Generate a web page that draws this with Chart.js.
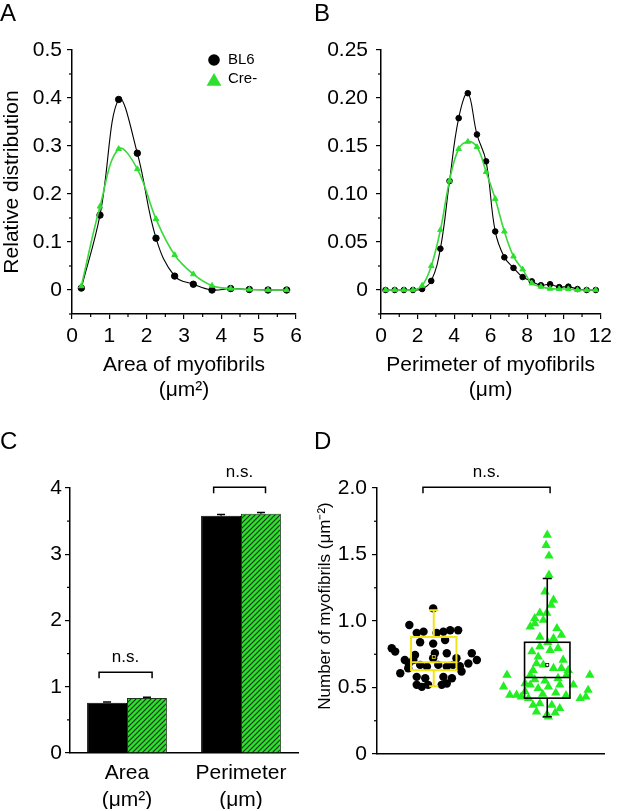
<!DOCTYPE html>
<html><head><meta charset="utf-8">
<script src="https://cdn.jsdelivr.net/npm/chart.js@4.4.1/dist/chart.umd.min.js"></script>
<style>
html,body{margin:0;padding:0;background:#fff;width:617px;height:811px;overflow:hidden;}
canvas{position:absolute;}
.lab{position:absolute;font-family:'Liberation Sans',Arial,sans-serif;font-size:24px;color:#000;line-height:1;}
</style></head><body>
<canvas id="cA" style="left:0px;top:0px;width:308px;height:405px" width="308" height="405"></canvas>
<canvas id="cB" style="left:308px;top:0px;width:309px;height:405px" width="309" height="405"></canvas>
<canvas id="cC" style="left:0px;top:405px;width:308px;height:406px" width="308" height="406"></canvas>
<canvas id="cD" style="left:308px;top:405px;width:309px;height:406px" width="309" height="406"></canvas>
<div class="lab" style="left:0px;top:1px">A</div>
<div class="lab" style="left:314px;top:1px">B</div>
<div class="lab" style="left:0px;top:429px">C</div>
<div class="lab" style="left:314px;top:429px">D</div>
<script>
// ---------- DATA ----------
// Panel A: area distribution
const areaBins = [0.25,0.75,1.25,1.75,2.25,2.75,3.25,3.75,4.25,4.75,5.25,5.75];
const areaBL6  = [0.004,0.156,0.397,0.285,0.108,0.029,0.012,0.0,0.003,0.001,0.0,0.0];
const areaCre  = [0.008,0.174,0.294,0.252,0.148,0.073,0.033,0.009,0.003,0.001,0.0,0.0];
const areaXTicks = [0,1,2,3,4,5,6];
const areaYTicks = [0,0.1,0.2,0.3,0.4,0.5];
const areaYLabels = ['0','0.1','0.2','0.3','0.4','0.5'];
const areaXMinor = [0.5,1.5,2.5,3.5,4.5,5.5];
const areaYMinor = [0.05,0.15,0.25,0.35,0.45];

// Panel B: perimeter distribution
const perimBins = [0.25,0.75,1.25,1.75,2.25,2.75,3.25,3.75,4.25,4.75,5.25,5.75,6.25,6.75,7.25,7.75,8.25,8.75,9.25,9.75,10.25,10.75,11.25,11.75];
const perimBL6  = [0,0,0,0,0.001,0.0095,0.043,0.1135,0.179,0.205,0.162,0.134,0.061,0.034,0.023,0.0135,0.009,0.005,0.006,0.003,0.0035,0.001,0,0];
const perimCre  = [0,0,0,0,0.0045,0.025,0.0625,0.114,0.147,0.1545,0.149,0.123,0.095,0.061,0.035,0.0215,0.007,0.0035,0.0014,0.001,0.001,0,0,0];
const perimXTicks = [0,2,4,6,8,10,12];
const perimYTicks = [0,0.05,0.10,0.15,0.20,0.25];
const perimYLabels = ['0','0.05','0.10','0.15','0.20','0.25'];
const perimXMinor = [1,3,5,7,9,11];
const perimYMinor = [0.025,0.075,0.125,0.175,0.225];

// Panel C: mean size
const barCategories = [['Area','(\u03bcm\u00b2)'],['Perimeter','(\u03bcm)']];
const barBL6 = [0.76,3.58];
const barCre = [0.83,3.61];
const errBL6 = [0.01,0.02];
const errCre = [0.01,0.02];
const barYTicks = [0,1,2,3,4];
const barYMinor = [0.5,1.5,2.5,3.5];

// Panel D: density
const groupNames = ['BL6','Cre-'];
const groupPos = [1,3];
const bl6X = [0.99,0.57,0.70,0.82,1.05,1.17,1.29,1.43,0.76,0.99,1.20,0.26,0.32,0.67,1.02,1.23,0.49,1.67,1.76,1.61,0.76,0.88,1.08,1.23,1.34,0.41,1.49,0.70,0.85,1.17,1.32,0.70,0.79,0.90,1.14,1.23,0.55,0.64,0.99,1.40,1.46,0.56];
const bl6Y = [1.095,0.97,0.91,0.92,0.91,0.92,0.93,0.93,0.84,0.83,0.857,0.795,0.77,0.745,0.757,0.757,0.707,0.757,0.707,0.68,0.67,0.657,0.67,0.657,0.67,0.607,0.62,0.58,0.57,0.58,0.57,0.52,0.505,0.52,0.52,0.53,0.645,0.707,0.72,0.72,0.66,0.68];
const creX = [3.00,2.98,3.03,3.03,2.96,3.11,3.07,2.87,2.78,2.99,2.78,2.93,3.17,2.70,3.25,2.87,3.11,2.73,2.84,3.19,3.05,2.87,3.28,2.81,2.93,3.11,3.25,3.37,2.75,2.29,3.75,2.70,3.34,2.23,2.70,2.84,3.02,3.22,3.46,3.72,2.34,2.46,2.54,3.58,3.68,2.67,2.75,2.87,3.08,3.22,2.81,2.99,3.14,3.02,2.92,3.15,3.33,2.61,2.96,3.19,2.78,3.01,2.61];
const creY = [1.647,1.57,1.49,1.346,1.22,1.158,1.12,1.06,1.02,1.06,0.98,1.007,0.945,0.957,0.895,0.88,0.87,0.77,0.73,0.795,0.78,0.807,0.707,0.68,0.67,0.645,0.645,0.63,0.63,0.594,0.594,0.594,0.594,0.506,0.52,0.494,0.506,0.52,0.52,0.48,0.444,0.444,0.43,0.418,0.43,0.418,0.368,0.38,0.368,0.343,0.318,0.293,0.31,0.28,0.45,0.46,0.44,0.47,0.55,0.57,0.56,0.84,0.53];
const boxQ1 = [0.63,0.42];
const boxQ3 = [0.88,0.84];
const boxMedian = [0.69,0.575];
const boxMean = [0.73,0.67];
const whiskerLow = [0.51,0.28];
const whiskerHigh = [1.08,1.32];
const densYTicks = [0,0.5,1.0,1.5,2.0];
const densYLabels = ['0','0.5','1.0','1.5','2.0'];
const densYMinor = [0.25,0.75,1.25,1.75];

// ---------- STYLE ----------
const FONT = "'Liberation Sans', Arial, Helvetica, sans-serif";
const FS = 21;
const GREEN = '#2ee02e';
const GREEN_LINE = '#3ad83a';
const YELLOW = '#f2e31a';
Chart.defaults.font.family = FONT;
Chart.defaults.color = '#000';
Chart.defaults.animation = false;

function pts(xs, ys){ return xs.map((x,i)=>({x:x, y:ys[i]})); }

const minorTicks = {
  id:'minorTicks',
  afterDraw(chart, args, o){
    const ctx = chart.ctx; ctx.save(); ctx.strokeStyle='#000'; ctx.lineWidth=1.2;
    const len = o.len || 3;
    (o.y||[]).forEach(v=>{ const s=chart.scales.y; const p=s.getPixelForValue(v); ctx.beginPath(); ctx.moveTo(s.right-len,p); ctx.lineTo(s.right,p); ctx.stroke(); });
    (o.x||[]).forEach(v=>{ const s=chart.scales.x; const p=s.getPixelForValue(v); ctx.beginPath(); ctx.moveTo(p,s.top); ctx.lineTo(p,s.top+len); ctx.stroke(); });
    ctx.restore();
  }
};

const brackets = {
  id:'brackets',
  afterDraw(chart, args, o){
    const ctx = chart.ctx, xs=chart.scales.x, ys=chart.scales.y;
    ctx.save(); ctx.strokeStyle='#000'; ctx.lineWidth=1.5; ctx.fillStyle='#000';
    ctx.font = '17px ' + FONT; ctx.textAlign='center'; ctx.textBaseline='middle';
    (o.items||[]).forEach(b=>{
      const x1=xs.getPixelForValue(b.x1), x2=xs.getPixelForValue(b.x2);
      const y=ys.getPixelForValue(b.y);
      ctx.beginPath(); ctx.moveTo(x1,y+b.drop); ctx.lineTo(x1,y); ctx.lineTo(x2,y); ctx.lineTo(x2,y+b.drop); ctx.stroke();
      ctx.fillText(b.text, (x1+x2)/2, y-b.gap);
    });
    ctx.restore();
  }
};

function yScale(min, max, vals, labels, width, pad){
  return {
    type:'linear', min:min, max:max,
    afterFit: s=>{ s.width = width; },
    afterBuildTicks: s=>{ s.ticks = vals.map(v=>({value:v})); },
    grid:{drawOnChartArea:false, drawTicks:true, tickLength:5, color:'#000', lineWidth:1.2},
    border:{display:true, color:'#000', width:1.5},
    ticks:{font:{size:FS}, color:'#000', padding:pad, autoSkip:false, callback:(v,i)=>labels[i]}
  };
}

// ---------- PANEL A ----------
new Chart(document.getElementById('cA'), {
  type:'line',
  data:{datasets:[
    {label:'Cre-', data:pts(areaBins, areaCre), borderColor:GREEN_LINE, borderWidth:1.6, pointStyle:'triangle', pointRadius:3.2, pointBackgroundColor:GREEN, pointBorderColor:GREEN, pointBorderWidth:1, tension:0.4},
    {label:'BL6', data:pts(areaBins, areaBL6), borderColor:'#000', borderWidth:1.1, pointStyle:'circle', pointRadius:3.2, pointBackgroundColor:'#000', pointBorderColor:'#000', pointBorderWidth:1, tension:0.4}
  ]},
  options:{
    responsive:false, animation:false,
    layout:{padding:{top:50,right:12,left:0,bottom:2}},
    plugins:{legend:{display:false}, tooltip:{enabled:false},
      minorTicks:{x:areaXMinor, y:areaYMinor.concat([-0.05]), len:3}},
    scales:{
      x:{type:'linear', min:0, max:6,
        afterFit: s=>{ s.height = 89; },
        afterBuildTicks: s=>{ s.ticks = areaXTicks.map(v=>({value:v})); },
        grid:{drawOnChartArea:false, drawTicks:true, tickLength:5, color:'#000', lineWidth:1.2},
        border:{display:true, color:'#000', width:1.5},
        ticks:{font:{size:FS}, color:'#000', padding:5, maxRotation:0, autoSkip:false},
        title:{display:true, text:['Area of myofibrils','(\u03bcm\u00b2)'], font:{size:FS, lineHeight:1.2}, color:'#000', padding:{top:0,bottom:0}}},
      y:Object.assign(yScale(-0.05, 0.5, areaYTicks, areaYLabels, 72, 5), {
        title:{display:true, text:'Relative distribution', font:{size:FS, lineHeight:1.2}, color:'#000', padding:{top:0,bottom:0}}})
    }
  },
  plugins:[minorTicks, {
    id:'legendA',
    afterDraw(chart){
      const ctx=chart.ctx; ctx.save();
      ctx.fillStyle='#000'; ctx.beginPath(); ctx.arc(214,60,5.8,0,Math.PI*2); ctx.fill();
      ctx.fillStyle=GREEN; const r=8.5, cx=214, cy=81.5;
      ctx.beginPath(); ctx.moveTo(cx, cy-r); ctx.lineTo(cx+r*0.866, cy+r/2); ctx.lineTo(cx-r*0.866, cy+r/2); ctx.closePath(); ctx.fill();
      ctx.fillStyle='#000'; ctx.font='15px '+FONT; ctx.textAlign='left'; ctx.textBaseline='middle';
      ctx.fillText('BL6', 228, 60); ctx.fillText('Cre-', 228, 79);
      ctx.restore();
    }
  }]
});

// ---------- PANEL B ----------
new Chart(document.getElementById('cB'), {
  type:'line',
  data:{datasets:[
    {label:'Cre-', data:pts(perimBins, perimCre), borderColor:GREEN_LINE, borderWidth:1.6, pointStyle:'triangle', pointRadius:3.2, pointBackgroundColor:GREEN, pointBorderColor:GREEN, pointBorderWidth:1, tension:0.4},
    {label:'BL6', data:pts(perimBins, perimBL6), borderColor:'#000', borderWidth:1.1, pointStyle:'circle', pointRadius:2.8, pointBackgroundColor:'#000', pointBorderColor:'#000', pointBorderWidth:1, tension:0.4}
  ]},
  options:{
    responsive:false, animation:false,
    layout:{padding:{top:50,right:11,left:0,bottom:2}},
    plugins:{legend:{display:false}, tooltip:{enabled:false},
      minorTicks:{x:perimXMinor, y:perimYMinor.concat([-0.025]), len:3}},
    scales:{
      x:{type:'linear', min:0, max:12,
        afterFit: s=>{ s.height = 89; },
        afterBuildTicks: s=>{ s.ticks = perimXTicks.map(v=>({value:v})); },
        grid:{drawOnChartArea:false, drawTicks:true, tickLength:5, color:'#000', lineWidth:1.2},
        border:{display:true, color:'#000', width:1.5},
        ticks:{font:{size:FS}, color:'#000', padding:5, maxRotation:0, autoSkip:false},
        title:{display:true, text:['Perimeter of myofibrils','(\u03bcm)'], font:{size:FS, lineHeight:1.2}, color:'#000', padding:{top:0,bottom:0}}},
      y:yScale(-0.025, 0.25, perimYTicks, perimYLabels, 73, 8)
    }
  },
  plugins:[minorTicks]
});

// ---------- PANEL C ----------
function makeHatch(){
  const s=5; const c=document.createElement('canvas'); c.width=s; c.height=s;
  const g=c.getContext('2d');
  g.fillStyle=GREEN; g.fillRect(0,0,s,s);
  g.strokeStyle='#103010'; g.lineWidth=1.1;
  g.beginPath();
  g.moveTo(0,s); g.lineTo(s,0);
  g.moveTo(-1,1); g.lineTo(1,-1);
  g.moveTo(s-1,s+1); g.lineTo(s+1,s-1);
  g.stroke();
  return g.createPattern(c,'repeat');
}
new Chart(document.getElementById('cC'), {
  type:'bar',
  data:{labels:barCategories, datasets:[
    {label:'BL6', data:barBL6, backgroundColor:'#000', borderColor:'#000', borderWidth:1, categoryPercentage:0.7, barPercentage:1.0},
    {label:'Cre-', data:barCre, backgroundColor:makeHatch(), borderColor:'#1b3b1b', borderWidth:1, categoryPercentage:0.7, barPercentage:1.0}
  ]},
  options:{
    responsive:false, animation:false,
    layout:{padding:{top:83,right:10,left:0,bottom:2}},
    plugins:{legend:{display:false}, tooltip:{enabled:false},
      minorTicks:{y:barYMinor, len:3},
      brackets:{items:[
        {x1:-0.245, x2:0.22, y:1.22, drop:6, gap:15, text:'n.s.'},
        {x1:0.76, x2:1.215, y:4.01, drop:6, gap:15, text:'n.s.'}
      ]}},
    scales:{
      x:{afterFit: s=>{ s.height = 56; },
        grid:{display:false, drawTicks:false},
        border:{display:true, color:'#000', width:1.5},
        ticks:{font:{size:FS, lineHeight:1.29}, color:'#000', padding:7, maxRotation:0, autoSkip:false}},
      y:yScale(0, 4, barYTicks, barYTicks.map(String), 70, 3)
    }
  },
  plugins:[minorTicks, brackets, {
    id:'errs',
    afterDatasetsDraw(chart){
      const ctx=chart.ctx, ys=chart.scales.y; const errs=[errBL6, errCre];
      ctx.save(); ctx.strokeStyle='#000'; ctx.lineWidth=1.5;
      chart.data.datasets.forEach((ds,i)=>{
        chart.getDatasetMeta(i).data.forEach((el,j)=>{
          const yt=ys.getPixelForValue(ds.data[j]+errs[i][j]);
          ctx.beginPath(); ctx.moveTo(el.x, el.y); ctx.lineTo(el.x, yt);
          ctx.moveTo(el.x-4, yt); ctx.lineTo(el.x+4, yt); ctx.stroke();
        });
      });
      ctx.restore();
    }
  }]
});

// ---------- PANEL D ----------
new Chart(document.getElementById('cD'), {
  type:'scatter',
  data:{datasets:[
    {label:groupNames[0], data:pts(bl6X, bl6Y), pointStyle:'circle', pointRadius:4.2, pointBackgroundColor:'#000', pointBorderColor:'#000', pointBorderWidth:0},
    {label:groupNames[1], data:pts(creX, creY), pointStyle:'triangle', pointRadius:5.4, pointBackgroundColor:'#22ee22', pointBorderColor:'#22ee22', pointBorderWidth:0}
  ]},
  options:{
    responsive:false, animation:false,
    layout:{padding:{top:83,right:13,left:0,bottom:2}},
    plugins:{legend:{display:false}, tooltip:{enabled:false},
      minorTicks:{y:densYMinor, len:3},
      brackets:{items:[{x1:0.81, x2:3.05, y:2.005, drop:6, gap:15, text:'n.s.'}]}},
    scales:{
      x:{type:'linear', min:0, max:4,
        afterFit: s=>{ s.height = 55; },
        grid:{display:false, drawTicks:false},
        border:{display:true, color:'#000', width:1.5},
        ticks:{display:false}},
      y:yScale(0, 2, densYTicks, densYLabels, 69, 5)
    }
  },
  plugins:[minorTicks, brackets, {
    id:'boxes',
    afterDatasetsDraw(chart){
      const ctx=chart.ctx, xs=chart.scales.x, ys=chart.scales.y;
      const colors=[YELLOW,'#000'], widths=[2,1.6], half=0.4, cap=0.08;
      ctx.save();
      groupPos.forEach((c,i)=>{
        ctx.strokeStyle=colors[i]; ctx.lineWidth=widths[i];
        const l=xs.getPixelForValue(c-half), r=xs.getPixelForValue(c+half), cx=xs.getPixelForValue(c);
        const q1=ys.getPixelForValue(boxQ1[i]), q3=ys.getPixelForValue(boxQ3[i]);
        const md=ys.getPixelForValue(boxMedian[i]);
        const wl=ys.getPixelForValue(whiskerLow[i]), wh=ys.getPixelForValue(whiskerHigh[i]);
        const cl=xs.getPixelForValue(c-cap), cr=xs.getPixelForValue(c+cap);
        ctx.strokeRect(l,q3,r-l,q1-q3);
        ctx.beginPath(); ctx.moveTo(l,md); ctx.lineTo(r,md);
        ctx.moveTo(cx,q3); ctx.lineTo(cx,wh); ctx.moveTo(cl,wh); ctx.lineTo(cr,wh);
        ctx.moveTo(cx,q1); ctx.lineTo(cx,wl); ctx.moveTo(cl,wl); ctx.lineTo(cr,wl);
        ctx.stroke();
        const mn=ys.getPixelForValue(boxMean[i]);
        ctx.lineWidth=0.8; ctx.strokeRect(cx-1.5, mn-1.5, 3, 3);
      });
      ctx.restore();
    }
  }, {
    id:'yTitleD',
    afterDraw(chart){
      const ctx=chart.ctx; ctx.save();
      ctx.translate(17, 201); ctx.rotate(-Math.PI/2);
      ctx.font='17px '+FONT; ctx.fillStyle='#000'; ctx.textAlign='center'; ctx.textBaseline='middle';
      ctx.fillText('Number of myofibrils (\u03bcm\u207b\u00b2)', 0, 0);
      ctx.restore();
    }
  }]
});
</script>
</body></html>
